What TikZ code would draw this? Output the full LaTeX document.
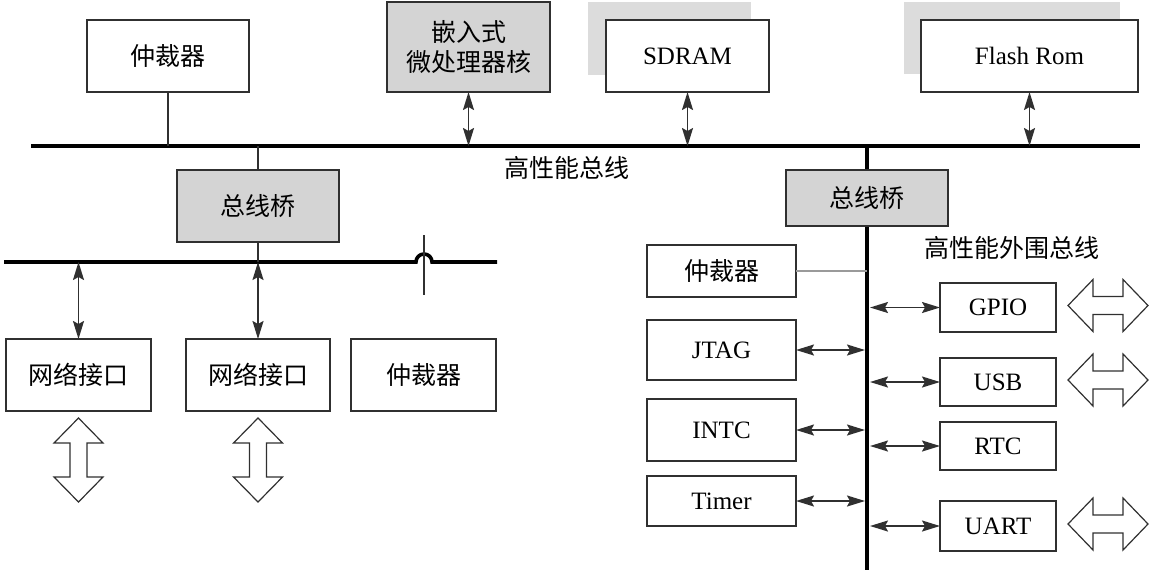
\documentclass[tikz,border=0pt]{standalone}
\usepackage{fontspec}
\setmainfont{Liberation Serif}
\newfontfamily\cjk{Noto Sans CJK SC}
\usetikzlibrary{arrows.meta}

\definecolor{c303030}{RGB}{48,48,48}
\definecolor{cD4D4D4}{RGB}{212,212,212}
\definecolor{cDCDCDC}{RGB}{220,220,220}
\definecolor{c9A9A9A}{RGB}{154,154,154}

\tikzset{
  box/.style={draw=c303030,fill=white,line width=1.000pt,
    font=\fontsize{12.5}{16}\selectfont},
  graybox/.style={box,fill=cD4D4D4},
  shadowbox/.style={fill=cDCDCDC},
  cn/.style={font=\cjk\fontsize{12.5}{16}\selectfont},
  bus/.style={draw=black,line width=1.800pt},
  link/.style={draw=c303030,line width=0.800pt},
  dbl/.style={link,line width=0.900pt,
    {Stealth[length=9pt,width=5.5pt,inset=1.5pt]}-{Stealth[length=9pt,width=5.5pt,inset=1.5pt]}},
  hollow/.style={draw=c303030,fill=white,line width=0.600pt,line join=miter}
}

\begin{document}
\begin{tikzpicture}[y=0.50pt, x=0.50pt, yscale=-1.000000, xscale=1.000000, inner sep=0pt, outer sep=0pt]
\useasboundingbox (0,0) rectangle (1149,574);

% bus end points
\coordinate (busL) at (31,146);
\coordinate (busR) at (1140,146);
\coordinate (lbusL) at (4,262);
\coordinate (lbusR) at (497,262);
\coordinate (vtop) at (867,146);
\coordinate (vbot) at (867,570);
\coordinate (crossT) at (424,235);
\coordinate (crossB) at (424,295);

\path[bus] (busL) -- (busR);
\path[bus] (vtop) -- (vbot);
\path[bus] (lbusL) -- (416,262) arc(180:360:8) -- (lbusR);
\path[link] (crossT) -- (crossB);

% top row
\node[shadowbox,minimum width=81.5pt,minimum height=36.5pt] (sdramS) at (669.5,38.5) {};
\node[shadowbox,minimum width=108pt,minimum height=36pt] (flashS) at (1012,38) {};
\node[box,cn,minimum width=81pt,minimum height=36pt] (arbT) at (168,56) {仲裁器};
\node[graybox,cn,align=center,minimum width=81.5pt,minimum height=45pt] (cpu) at (468.5,47) {嵌入式\\[-1pt]微处理器核};
\node[box,minimum width=81.5pt,minimum height=36pt] (sdram) at (687.5,56) {SDRAM};
\node[box,minimum width=108.5pt,minimum height=36pt] (flash) at (1029.5,56) {Flash Rom};

\node[cn] (busLabel) at (567,168) {高性能总线};

% left branch
\node[graybox,cn,minimum width=81pt,minimum height=36pt] (brL) at (258,206) {总线桥};
\node[box,cn,minimum width=72.5pt,minimum height=36pt] (netA) at (78.5,375) {网络接口};
\node[box,cn,minimum width=72pt,minimum height=36pt] (netB) at (258,375) {网络接口};
\node[box,cn,minimum width=72.5pt,minimum height=36pt] (arbL) at (423.5,375) {仲裁器};

% right branch
\node[graybox,cn,minimum width=81pt,minimum height=28pt] (brR) at (867,198) {总线桥};
\node[cn] (pbusLabel) at (1012,248) {高性能外围总线};
\node[box,cn,minimum width=74.5pt,minimum height=26pt] (arbR) at (721.5,271) {仲裁器};
\node[box,minimum width=74.5pt,minimum height=30pt] (jtag) at (721.5,350) {JTAG};
\node[box,minimum width=74.5pt,minimum height=31pt] (intc) at (721.5,430) {INTC};
\node[box,minimum width=74.5pt,minimum height=25pt] (timer) at (721.5,501) {Timer};
\node[box,minimum width=58pt,minimum height=24.5pt] (gpio) at (998,307.5) {GPIO};
\node[box,minimum width=58pt,minimum height=24pt] (usb) at (998,382) {USB};
\node[box,minimum width=58pt,minimum height=24pt] (rtc) at (998,446) {RTC};
\node[box,minimum width=58pt,minimum height=25pt] (uart) at (998,526) {UART};

% connections to the high performance bus
\path[link] (arbT.south) -- (arbT.south |- busL);
\path[dbl] (cpu.south) -- (cpu.south |- busL);
\path[dbl] (sdram.south) -- (sdram.south |- busL);
\path[dbl] (flash.south) -- (flash.south |- busL);
\path[link] (brL.north |- busL) -- (brL.north);
\path[link] (brL.south) -- (brL.south |- lbusL);
\path[dbl] (netA.north |- lbusL) -- (netA.north);
\path[dbl] (netB.north |- lbusL) -- (netB.north);

% peripheral bus
\path[draw=c9A9A9A,line width=0.600pt] (arbR.east) -- (arbR.east -| vtop);
\foreach \n in {jtag,intc,timer}
  \path[dbl,shorten >=1pt] (\n.east) -- (\n.east -| vtop);
\foreach \n in {gpio,usb,rtc,uart}
  \path[dbl,shorten <=1.5pt] (\n.west -| vtop) -- (\n.west);

% external ports
\foreach \n in {netA,netB}
  \path[hollow] (\n.south) ++(0,7) -- ++(24.5,25) -- ++(-16,0) -- ++(0,34)
    -- ++(16,0) -- ++(-24.5,25) -- ++(-24.5,-25) -- ++(16,0) -- ++(0,-34)
    -- ++(-16,0) -- cycle;
\foreach \n in {gpio,usb,uart}
  \path[hollow] (\n.east) ++(12,-2) -- ++(25,-26) -- ++(0,17) -- ++(30,0)
    -- ++(0,-17) -- ++(25,26) -- ++(-25,26) -- ++(0,-17) -- ++(-30,0)
    -- ++(0,17) -- cycle;

\end{tikzpicture}
\end{document}
